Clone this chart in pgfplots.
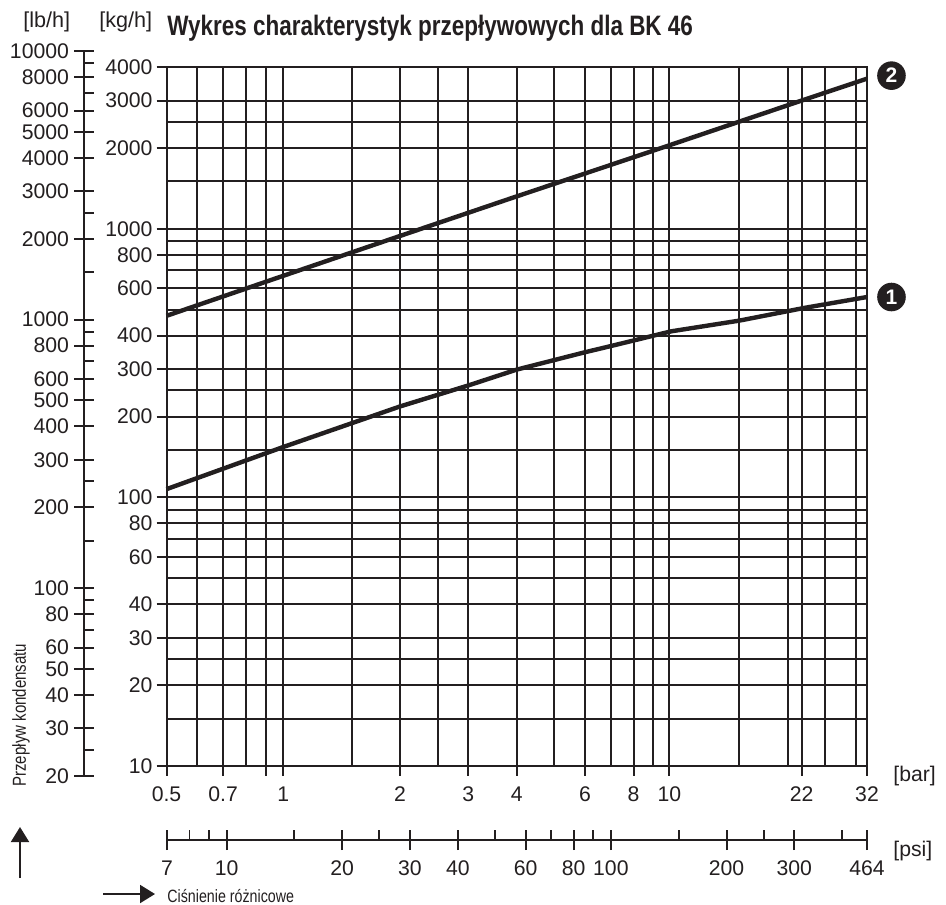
\documentclass[border=0pt]{standalone}
\usepackage{pgfplots}
\pgfplotsset{compat=1.18}
\usepackage{fontspec}
\usetikzlibrary{arrows.meta}
\setmainfont{Liberation Sans}
\newfontfamily\narrowf[FakeStretch=0.8]{Liberation Sans}
\definecolor{ink}{HTML}{231F20}
\pgfplotsset{
  every axis/.append style={
    scale only axis,
    /pgf/number format/assume math mode=true,
    tick style={draw=ink,line width=1pt},
    axis line style={draw=ink,line width=1pt},
    tick label style={font=\fontsize{10.6}{12}\selectfont,text=ink},
    log ticks with fixed point,
  },
}
\pgfplotstableread{
x y
0.5 107.3
1 154
2 218
3 261
4 299
6 347
7 366
10 415
15 455
22 507
32 557
}\curveone
\pgfplotstableread{
x y
0.5 474
1 668
2 940
4 1320
10 2055
22 3020
32 3620
}\curvetwo
\begin{document}
\begin{tikzpicture}
\useasboundingbox (0pt,0pt) rectangle (473pt,-452pt);
% main chart
\begin{axis}[
  at={(83.25pt,-383pt)},anchor=south west,
  width=350.25pt,height=349.5pt,
  xmode=log,ymode=log,
  xmin=0.5,xmax=32,ymin=10,ymax=4000,
  clip=false,
  tick align=outside,major tick length=5pt,minor tick length=0pt,
  xtick pos=bottom,ytick pos=left,
  xtick={0.5,0.7,0.9,1,2,3,4,6,8,9.9,21.7,32},
  xticklabels={0.5,0.7,,1,2,3,4,6,8,10,22,32},
  minor xtick={0.6,0.8,1.5,2.5,5,7,9,15,20,25,30},
  ytick={10,20,30,40,60,80,100,200,300,400,600,800,1000,2000,3000,4000},
  yticklabels={10,20,30,40,60,80,100,200,300,400,600,800,1000,2000,3000,4000},
  minor ytick={15,25,50,70,90,150,250,500,700,900,1500,2500},
  grid=both,
  major grid style={draw=ink,line width=1pt},
  minor grid style={draw=ink,line width=1pt},
  x tick label style={yshift=-2pt},
  y tick label style={xshift=1.5pt},
]
\addplot[draw=ink,line width=2.2pt] table[x=x,y=y]{\curveone};
\addplot[draw=ink,line width=2.2pt] table[x=x,y=y]{\curvetwo};
\node[circle,fill=ink,text=white,inner sep=0pt,minimum size=14.3pt,font=\fontsize{10.5}{10.5}\selectfont\bfseries] at (axis cs:37,557) {1};
\node[circle,fill=ink,text=white,inner sep=0pt,minimum size=14.3pt,font=\fontsize{10.5}{10.5}\selectfont\bfseries] at (axis cs:37,3715) {2};
\end{axis}
% lb/h scale
\begin{axis}[
  at={(42pt,-387.85pt)},anchor=south west,
  width=1pt,height=362.3pt,
  ymode=log,xmin=0,xmax=1,ymin=20,ymax=10000,
  axis y line=left,axis x line=none,
  tick align=center,major tick length=10pt,
  ytick={20,30,40,50,60,80,100,200,300,400,500,600,800,1000,2000,3000,4000,5000,6000,8000,10000},
  yticklabels={20,30,40,50,60,80,100,200,300,400,500,600,800,1000,2000,3000,4000,5000,6000,8000,10000},
  minor ytick={},
  extra y ticks={25,70,90,150,250,700,900,1500,2500,7000,9000},
  extra y tick labels={},
  extra y tick style={tick align=inside,major tick length=5pt},
  y axis line style={-},
  y tick label style={xshift=1pt},
]
\addplot[draw=none] coordinates {(0,20) (1,10000)};
\end{axis}
% psi scale
\begin{axis}[
  at={(83.5pt,-420pt)},anchor=south west,
  width=350pt,height=1pt,
  xmode=log,xmin=7,xmax=464,ymin=0,ymax=1,
  axis x line=bottom,axis y line=none,
  tick align=center,major tick length=10pt,
  xtick={7,10,20,30,40,60,80,100,200,300,464},
  xticklabels={7,10,20,30,40,60,80,100,200,300,464},
  minor xtick={},
  extra x ticks={9,15,25,50,70,90,150,250,400},
  extra x tick labels={},
  extra x tick style={tick align=inside,major tick length=5pt},
  x axis line style={-},
  x tick label style={yshift=-2pt},
]
\addplot[draw=none] coordinates {(7,0) (464,1)};
\end{axis}
% the thin tick at 8 psi
\begin{axis}[
  at={(83.5pt,-420pt)},anchor=south west,
  width=350pt,height=1pt,
  xmode=log,xmin=7,xmax=464,ymin=0,ymax=1,
  axis x line=bottom,axis y line=none,
  tick align=inside,major tick length=5pt,
  tick style={draw=ink,line width=0.35pt},
  xtick={8},xticklabels={},minor xtick={},
  x axis line style={-},
]
\addplot[draw=none] coordinates {(7,0) (464,1)};
\end{axis}
% texts (positions in reference pixels)
\begin{scope}[x=0.5pt,y=-0.5pt]
\node[anchor=west,inner sep=0pt,text=ink,font=\fontsize{10.8}{12}\selectfont] at (23,22) {[lb/h]};
\node[anchor=west,inner sep=0pt,text=ink,font=\fontsize{10.8}{12}\selectfont] at (99,22) {[kg/h]};
\node[anchor=west,inner sep=0pt,text=ink,font=\narrowf\fontsize{14.05}{16}\selectfont\bfseries] at (167,28) {Wykres charakterystyk przepływowych dla BK 46};
\node[anchor=west,inner sep=0pt,text=ink,font=\fontsize{10.6}{12}\selectfont] at (893,776) {[bar]};
\node[anchor=west,inner sep=0pt,text=ink,font=\fontsize{10.6}{12}\selectfont] at (893,851) {[psi]};
\node[anchor=west,inner sep=0pt,text=ink,font=\narrowf\fontsize{8.9}{10}\selectfont] at (167,896) {Ciśnienie różnicowe};
\node[rotate=90,anchor=west,inner sep=0pt,text=ink,font=\narrowf\fontsize{9.4}{10}\selectfont] at (21,787) {Przepływ kondensatu};
\draw[draw=ink,line width=1pt,-{Triangle[width=9pt,length=7.5pt]}] (20,878) -- (20,827);
\draw[draw=ink,line width=1pt,-{Triangle[width=9pt,length=7.5pt]}] (103,894) -- (155,894);
\end{scope}
\end{tikzpicture}
\end{document}
